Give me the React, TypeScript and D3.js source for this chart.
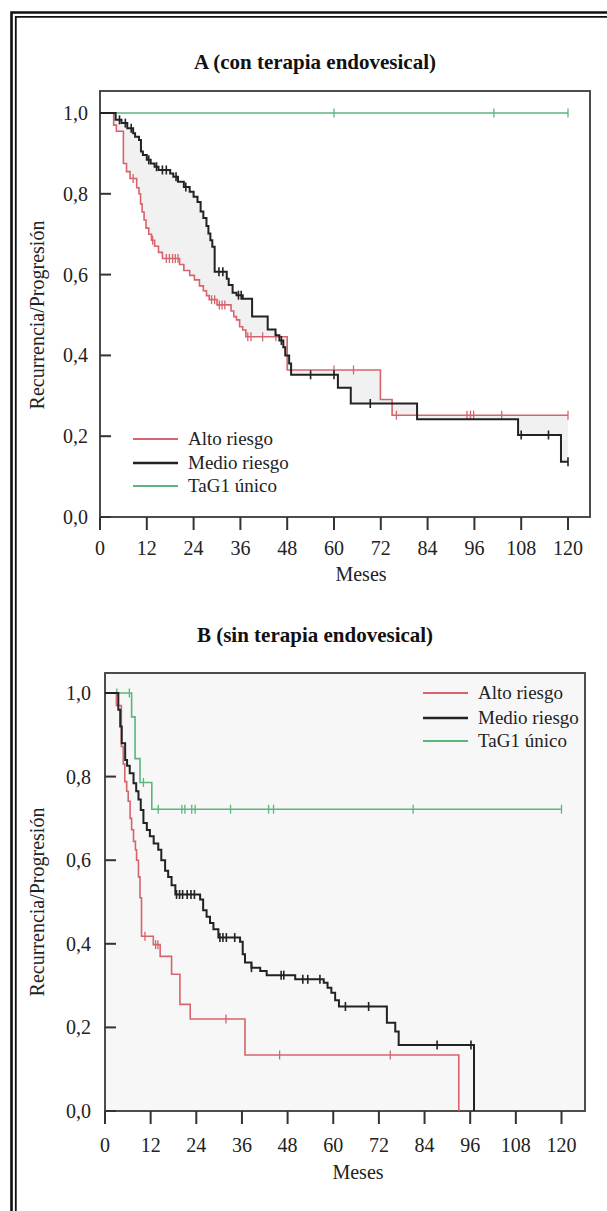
import React from "react";
import * as d3 from "d3";

// ---------- data ----------
const monthTicks = [0, 12, 24, 36, 48, 60, 72, 84, 96, 108, 120];
const survTicks = [0, 0.2, 0.4, 0.6, 0.8, 1.0];
const survTickLabels = ["0,0", "0,2", "0,4", "0,6", "0,8", "1,0"];
const seriesNames = ["Alto riesgo", "Medio riesgo", "TaG1 único"];
const seriesColors = ["#d6646d", "#222222", "#5cb67c"];

// Panel A (con terapia endovesical): [month, proportion] step points
const aAlto: [number, number][] = [
  [0, 1.0], [3.5, 0.97], [4.2, 0.955], [6.0, 0.875], [6.8, 0.855], [7.7, 0.838], [9.4, 0.815],
  [10.0, 0.8], [10.4, 0.775], [10.8, 0.755], [11.3, 0.735], [11.8, 0.715], [12.5, 0.7],
  [13.2, 0.685], [14.0, 0.67], [15.0, 0.655], [16.0, 0.64], [20.4, 0.625], [21.5, 0.61],
  [23.0, 0.598], [24.2, 0.587], [25.5, 0.572], [26.5, 0.56], [27.3, 0.548], [28.0, 0.538],
  [30.0, 0.525], [33.6, 0.51], [34.3, 0.496], [35.0, 0.488], [35.8, 0.471], [36.6, 0.463],
  [37.4, 0.446], [48.0, 0.364], [71.9, 0.291], [74.9, 0.252], [120, 0.252],
];
const aAltoCens = [8.5, 13.5, 17, 17.8, 18.6, 19.3, 20, 28.6, 29.4, 30.6, 31.3, 32, 37.9, 38.7, 41.7, 45.1, 60, 65, 76, 94.1, 95, 95.8, 103, 120];

const aMedio: [number, number][] = [
  [0, 1.0], [4.0, 0.983], [5.5, 0.975], [7.0, 0.962], [8.5, 0.95], [9.0, 0.941], [10.0, 0.933],
  [10.5, 0.905], [11.0, 0.896], [12.0, 0.884], [13.0, 0.875], [14.0, 0.867], [15.0, 0.859],
  [18.0, 0.85], [18.8, 0.842], [20.0, 0.83], [21.5, 0.817], [23.0, 0.805], [24.0, 0.793],
  [25.0, 0.78], [25.8, 0.756], [26.5, 0.74], [27.3, 0.72], [27.8, 0.702], [28.3, 0.685],
  [28.8, 0.669], [29.4, 0.607], [32.5, 0.59], [33.0, 0.574], [34.0, 0.555], [35.0, 0.549],
  [36.6, 0.54], [39.0, 0.496], [43.0, 0.464], [45.0, 0.45], [46.0, 0.437], [47.0, 0.42],
  [47.5, 0.4], [48.5, 0.38], [49.0, 0.352], [61.0, 0.32], [64.3, 0.281], [81.3, 0.242],
  [107.2, 0.203], [118.2, 0.137], [120, 0.137],
];
const aMedioCens = [5, 6.5, 8, 12.5, 14.5, 16, 17, 19.5, 22, 30.5, 31.5, 35.5, 36.2, 46.5, 54, 60, 69.3, 108, 115, 120];

const aTaG1: [number, number][] = [[0, 1.0], [120, 1.0]];
const aTaG1Cens = [60, 101, 120];

// Panel B (sin terapia endovesical)
const bAlto: [number, number][] = [
  [0, 1.0], [3.0, 0.97], [4.3, 0.872], [4.8, 0.83], [5.2, 0.788], [5.7, 0.765], [6.1, 0.741],
  [6.6, 0.7], [7.0, 0.673], [7.5, 0.645], [8.0, 0.625], [8.3, 0.6], [8.8, 0.56], [9.2, 0.51],
  [9.6, 0.418], [12.7, 0.398], [14.5, 0.37], [17.5, 0.327], [19.7, 0.255], [22.4, 0.22],
  [36.8, 0.134], [93, 0.0],
];
const bAltoCens = [10.5, 13.3, 13.9, 31.8, 45.9, 75];

const bMedio: [number, number][] = [
  [0, 1.0], [3.5, 0.96], [4.0, 0.92], [4.4, 0.88], [5.3, 0.84], [5.8, 0.826], [6.5, 0.808],
  [7.5, 0.784], [8.2, 0.765], [8.8, 0.745], [9.4, 0.72], [10.1, 0.689], [11.0, 0.672],
  [11.8, 0.657], [12.8, 0.64], [14.0, 0.625], [14.8, 0.6], [15.8, 0.575], [16.6, 0.56],
  [17.5, 0.54], [18.5, 0.518], [25.0, 0.506], [25.8, 0.48], [26.7, 0.465], [27.6, 0.45],
  [28.5, 0.435], [29.8, 0.415], [35.5, 0.405], [36.2, 0.375], [36.8, 0.355], [38.5, 0.343],
  [40.8, 0.335], [42.5, 0.325], [50.0, 0.315], [57.5, 0.307], [58.5, 0.295], [59.5, 0.283],
  [60.5, 0.265], [61.5, 0.25], [74.1, 0.211], [76.3, 0.19], [77.2, 0.158], [97, 0.0],
];
const bMedioCens = [18.8, 19.6, 20.4, 21.6, 22.6, 23.5, 30.2, 31, 31.9, 34.1, 38.5, 46.3, 47, 52, 53.3, 56.5, 63.2, 69.3, 87.3, 96.2];

const bTaG1: [number, number][] = [
  [0, 1.0], [7.0, 0.943], [7.9, 0.843], [9.2, 0.786], [12.3, 0.722], [120, 0.722],
];
const bTaG1Cens = [3.1, 6.4, 10.1, 14, 20.2, 21, 22.8, 23.7, 33, 43, 44.3, 81, 120];

// ---------- helpers ----------
const FONT = "'Liberation Serif', 'Times New Roman', serif";

function valueAt(pts: [number, number][], t: number) {
  let v = pts[0][1];
  for (const p of pts) {
    if (p[0] <= t + 1e-9) v = p[1];
    else break;
  }
  return v;
}

type PanelProps = {
  title: string;
  titleY: number;
  x0: number; x120: number; xRight: number;
  yTop: number; y1: number; y0: number;
  series: [number, number][][];
  censors: number[][];
  legendX: number; legendY: number[];
  fillPlot: boolean;
  shadeBetween: boolean;
  tickLabelY: number; mesesY: number; mesesX: number; yLabelRight: number;
};

function Panel(p: PanelProps) {
  const x = d3.scaleLinear().domain([0, 120]).range([p.x0, p.x120]);
  const y = d3.scaleLinear().domain([0, 1]).range([p.y0, p.y1]);
  const line = d3.line<[number, number]>().x(d => x(d[0])).y(d => y(d[1])).curve(d3.curveStepAfter);

  let shade: string | null = null;
  if (p.shadeBetween) {
    const times = Array.from(new Set([...p.series[0], ...p.series[1]].map(d => d[0]))).sort((a, b) => a - b);
    const area = d3.area<number>()
      .x(t => x(t))
      .y0(t => y(valueAt(p.series[0], t)))
      .y1(t => y(valueAt(p.series[1], t)))
      .curve(d3.curveStepAfter);
    shade = area(times);
  }

  const midY = (p.y0 + p.y1) / 2;
  const order = [2, 0, 1];
  return (
    <g>
      <text x={315} y={p.titleY} textAnchor="middle" fontFamily={FONT} fontWeight="bold" fontSize={21} fill="#111">{p.title}</text>
      {p.fillPlot && (
        <rect x={p.x0} y={p.yTop} width={p.xRight - p.x0} height={p.y0 - p.yTop} fill="#f7f7f7" />
      )}
      {shade && <path d={shade} fill="#f1f1f1" />}
      {/* box */}
      <rect x={p.x0} y={p.yTop} width={p.xRight - p.x0} height={p.y0 - p.yTop} fill="none" stroke="#3a3a3a" strokeWidth={1.8} />
      {/* y ticks (inward) */}
      {survTicks.map((v, i) => (
        <g key={"yt" + i}>
          <line x1={p.x0} x2={p.x0 + 11} y1={y(v)} y2={y(v)} stroke="#333" strokeWidth={2} />
          <text x={p.yLabelRight} y={y(v)} dy="0.35em" textAnchor="end" fontFamily={FONT} fontSize={20} fill="#222">{survTickLabels[i]}</text>
        </g>
      ))}
      {/* x ticks (outward) */}
      {monthTicks.map((m, i) => (
        <g key={"xt" + i}>
          <line x1={x(m)} x2={x(m)} y1={p.y0} y2={p.y0 + 13} stroke="#333" strokeWidth={2} />
          <text x={x(m)} y={p.tickLabelY} textAnchor="middle" fontFamily={FONT} fontSize={20} fill="#222">{String(m)}</text>
        </g>
      ))}
      <text x={p.mesesX} y={p.mesesY} textAnchor="middle" fontFamily={FONT} fontSize={20} fill="#222">Meses</text>
      <text transform={`translate(44,${midY}) rotate(-90)`} textAnchor="middle" fontFamily={FONT} fontSize={20} fill="#222">Recurrencia/Progresión</text>
      {/* curves */}
      {order.map(i => (
        <g key={"s" + i}>
          <path d={line(p.series[i]) || ""} fill="none" stroke={seriesColors[i]} strokeWidth={i === 1 ? 2 : 1.6} />
          {p.censors[i].map((t, j) => {
            const yy = y(valueAt(p.series[i], t));
            return <line key={j} x1={x(t)} x2={x(t)} y1={yy - 4.5} y2={yy + 4.5} stroke={seriesColors[i]} strokeWidth={i === 1 ? 1.6 : 1.3} />;
          })}
        </g>
      ))}
      {/* legend */}
      {seriesNames.map((n, i) => (
        <g key={"lg" + i}>
          <line x1={p.legendX} x2={p.legendX + 45} y1={p.legendY[i]} y2={p.legendY[i]} stroke={seriesColors[i]} strokeWidth={i === 1 ? 2.4 : 2} />
          <text x={p.legendX + 55} y={p.legendY[i]} dy="0.33em" fontFamily={FONT} fontSize={19} fill="#222">{n}</text>
        </g>
      ))}
    </g>
  );
}

export default function App() {
  return (
    <div style={{ position: "absolute", left: 0, top: 0 }}>
      <svg width={607} height={1211} viewBox="0 0 607 1211" style={{ display: "block", background: "#fff" }}>
        {/* outer double frame */}
        <path d="M11.5,1230 V12.5 H640" fill="none" stroke="#111" strokeWidth={2.6} />
        <path d="M15.8,1230 V16.8 H640" fill="none" stroke="#111" strokeWidth={1.8} />
        <Panel
          title="A (con terapia endovesical)" titleY={69}
          x0={100} x120={568} xRight={590}
          yTop={91} y1={113} y0={517}
          series={[aAlto, aMedio, aTaG1]}
          censors={[aAltoCens, aMedioCens, aTaG1Cens]}
          legendX={133} legendY={[439, 463, 486]}
          fillPlot={false} shadeBetween={true}
          tickLabelY={555} mesesY={581} mesesX={361} yLabelRight={88}
        />
        <Panel
          title="B (sin terapia endovesical)" titleY={642}
          x0={105} x120={561.5} xRight={585}
          yTop={673} y1={693} y0={1111}
          series={[bAlto, bMedio, bTaG1]}
          censors={[bAltoCens, bMedioCens, bTaG1Cens]}
          legendX={423} legendY={[693, 718, 741]}
          fillPlot={true} shadeBetween={false}
          tickLabelY={1152} mesesY={1179} mesesX={358} yLabelRight={91}
        />
      </svg>
    </div>
  );
}
